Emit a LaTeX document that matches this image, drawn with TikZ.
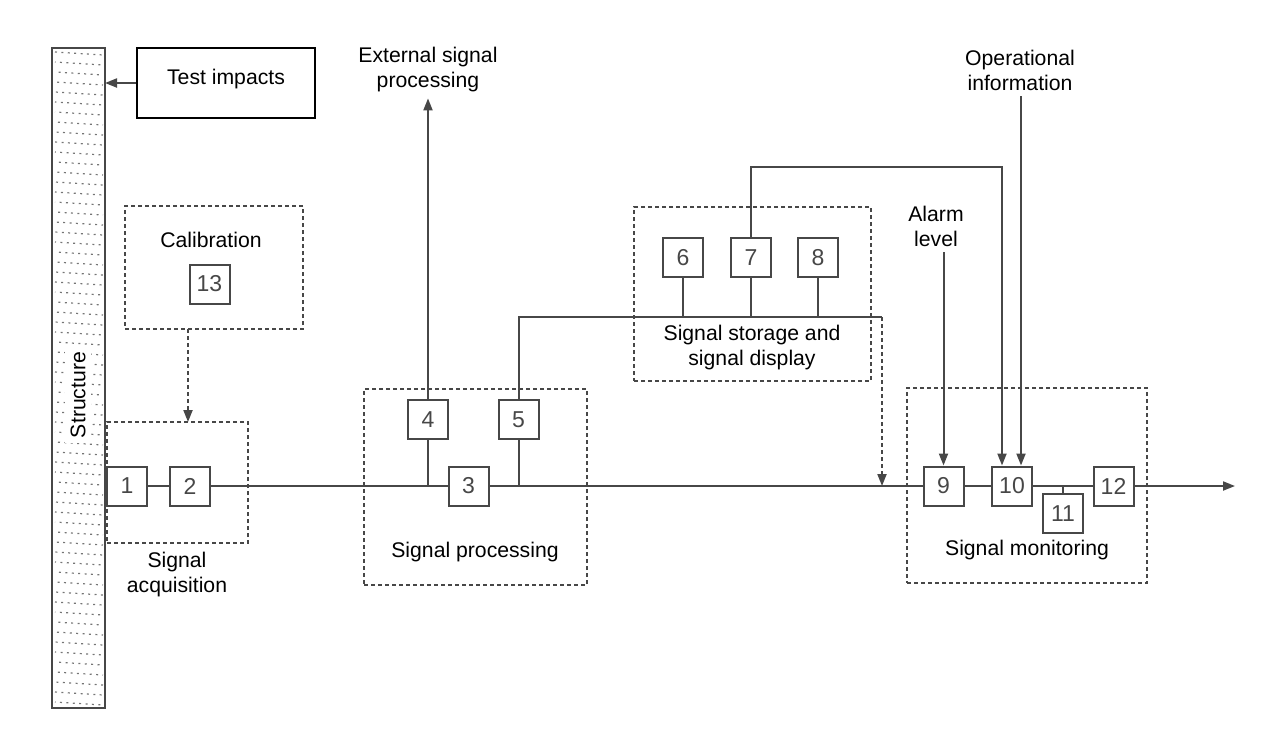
\documentclass[tikz,border=0pt]{standalone}
\usepackage{fontspec}
\setmainfont{Liberation Sans}
\usetikzlibrary{positioning,arrows.meta}
\definecolor{dgray}{HTML}{474747}

\begin{document}
\begin{tikzpicture}[x=0.5pt,y=-0.5pt,line width=1pt,num/.style={draw=dgray,minimum width=20pt,minimum height=19.5pt,inner sep=0pt,text=dgray,font=\fontsize{11.5}{13}\selectfont},grp/.style={draw=dgray,line width=0.8pt,dash pattern=on 2pt off 1.5pt,inner sep=0pt,outer sep=0pt},lab/.style={fill=white,align=center,inner sep=2.5pt,font=\fontsize{10.6}{12.5}\selectfont},l/.style={draw=dgray},a/.style={draw=dgray,-{Triangle[length=6pt,width=4.5pt]}},da/.style={a,dash pattern=on 2pt off 1.5pt},hatch/.style={dgray!75,line width=0.6pt,dash pattern=on 1pt off 2.2pt}]
\useasboundingbox (0,0) rectangle (1263,735);
% structure
\node[draw=dgray,minimum width=26.5pt,minimum height=330pt,inner sep=0pt,outer sep=0pt](bar) at (78.5,378){};
\foreach \k in {0,...,65}{\draw[hatch,dash phase=\k*0.7pt] (55,52+\k*10) -- (103,55+\k*10);}
\node[lab,rotate=90](structlab) at (78,395){Structure};
\node[draw=black,line width=1pt,minimum width=89pt,minimum height=35pt,font=\fontsize{10.6}{12.5}\selectfont,text depth=6pt](impact) at (226,83){Test impacts};
% groups
\node[grp,minimum width=89pt,minimum height=61.5pt](cal) at (214,267.5){};
\node[grp,minimum width=70.5pt,minimum height=60.5pt](acq) at (177.5,482.5){};
\node[grp,minimum width=111.5pt,minimum height=98pt](proc) at (475.5,487){};
\node[grp,minimum width=118.5pt,minimum height=87pt](store) at (752.5,294){};
\node[grp,minimum width=120pt,minimum height=97.5pt](mon) at (1027,485.5){};
% labels
\node[lab](callab) at (211,240){Calibration};
\node[lab](acqlab) at (177,575){Signal\\acquisition};
\node[lab](proclab) at (475,552){Signal processing};
\node[lab](storelab) at (752,348){Signal storage and\\signal display};
\node[lab](monlab) at (1027,550){Signal monitoring};
\node[lab](ext) at (428,70){External signal\\processing};
\node[lab](alarm) at (936,226){Alarm\\level};
\node[lab](op) at (1020,70){Operational\\information};
% blocks
\node[num](b13) at (209.5,284){13};
\node[num](b1) at (127,486){1};
\node[num](b2) at (190,486){2};
\node[num](b3) at (468.5,486){3};
\node[num](b4) at (428,419.5){4};
\node[num](b5) at (518.5,419.5){5};
\node[num](b6) at (683,257.5){6};
\node[num](b7) at (751,257.5){7};
\node[num](b8) at (818,257.5){8};
\node[num](b9) at (943.5,486){9};
\node[num](b10) at (1012,486){10};
\node[num](b11) at (1063,513.5){11};
\node[num](b12) at (1113.5,486){12};
\coordinate(calout) at (188,329);
\coordinate(busr) at (882,317);
\coordinate(loop7) at (1002,167);
\coordinate(out) at (1235,486);
% connections
\draw[a](impact.west)--(impact.west -| bar.east);\draw[da](calout)--(calout |- acq.north);
\draw[l](b1)--(b2);\draw[l](b2)--(b3);\draw[l](b3)--(b9);\draw[l](b9)--(b10);\draw[l](b10)--(b12);\draw[a](b12)--(out);
\draw[l](b4.south)--(b4.south |- b3.west);\draw[l](b5.south)--(b5.south |- b3.east);\draw[a](b4.north)--(b4.north |- ext.south);
\draw[l](b5.north)|-(busr);\draw[da](busr)--(busr |- b9.west);
\draw[l](b6.south)--(b6.south |- busr);\draw[l](b7.south)--(b7.south |- busr);\draw[l](b8.south)--(b8.south |- busr);
\draw[a](b7.north)|-(loop7)--(loop7 |- b10.north);\draw[a](op.south -| 1021,0)--(b10.north -| 1021,0);
\draw[a](alarm.south -| b9.north)--(b9.north);\draw[l](b11.north)--(b11.north |- b10.east);
\end{tikzpicture}
\end{document}
